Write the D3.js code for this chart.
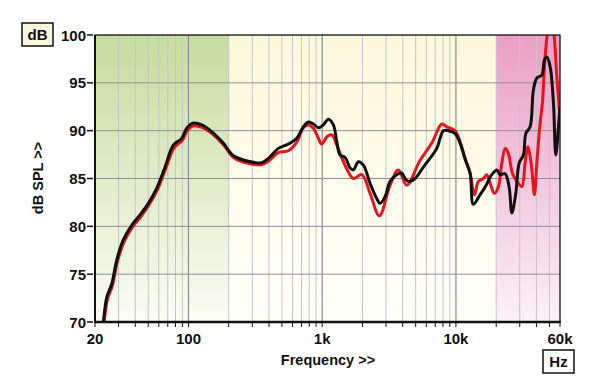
<!DOCTYPE html>
<html>
<head>
<meta charset="utf-8">
<script src="https://cdn.jsdelivr.net/npm/d3@7/dist/d3.min.js"></script>
<style>
  html, body { margin: 0; padding: 0; background: #fff; }
  svg { display: block; }
  text { font-family: "Liberation Sans", Arial, sans-serif; font-weight: bold; fill: #111; }
</style>
</head>
<body>
<svg id="chart" width="600" height="389"></svg>
<script>
// ---------- data ----------
const xTickValues = [20, 100, 1000, 10000, 60000];
const xTickLabels = ["20", "100", "1k", "10k", "60k"];
const yTickValues = [70, 75, 80, 85, 90, 95, 100];
const yTickLabels = ["70", "75", "80", "85", "90", "95", "100"];

const bands = ["low", "mid", "high"];
const bandStart = [20, 200, 20000];
const bandEnd = [200, 20000, 60000];

const blackFreq = [22.5, 23.1, 24.5, 26.7, 29.1, 32.6, 37.6, 43.4, 50.1, 57.9, 66.8, 77.0, 89.0, 97.0, 108.7, 125.7, 149, 182, 216,
  280, 353, 396, 470, 558, 645, 723, 788, 859, 936, 1020, 1112, 1212, 1285, 1360, 1483, 1616, 1710, 1864, 2031,
  2280, 2558, 2708, 2952, 3218, 3610, 3936, 4164, 4408, 4947, 5708, 7190, 7610, 8058, 8782, 9854, 10740, 11710,
  12760, 13500, 15160, 16520, 18540, 20210, 21390, 23330, 24990, 26200, 28040, 29680, 31970, 33310, 35860, 37960,
  40240, 43880, 45880, 47820, 50620, 53590, 55820, 58500, 60000];
const blackDb = [68.5, 70.0, 72.6, 74.0, 76.5, 78.6, 80.1, 81.2, 82.4, 84.0, 86.2, 88.5, 89.2, 90.25, 90.8, 90.6, 89.9, 88.7, 87.4,
  86.8, 86.65, 87.1, 88.15, 88.6, 89.2, 90.4, 90.9, 90.7, 90.3, 90.6, 91.2, 90.6, 88.85, 87.45, 87.2, 86.1, 85.9, 86.75, 86.4,
  84.5, 82.9, 82.4, 83.1, 84.7, 85.4, 85.55, 85.0, 84.7, 85.0, 86.2, 88.15, 89.2, 90.0, 90.0, 89.7, 88.7, 87.0,
  85.55, 82.3, 83.3, 84.1, 85.4, 85.9, 85.4, 85.5, 84.1, 81.4, 83.45, 86.6, 87.45, 89.7, 90.4, 94.25,
  95.5, 95.8, 97.4, 97.7, 96.7, 92.9, 87.45, 90.5, 92.5];

const redFreq = [22.8, 23.4, 24.8, 27.0, 29.4, 33, 38, 44, 50.5, 58.5, 67.5, 78, 90, 98, 109, 126, 150, 183, 217,
  280, 353, 396, 470, 558, 645, 723, 788, 859, 936, 990, 1090, 1180, 1285, 1360, 1526, 1710, 1976,
  2280, 2676, 3218, 3710, 4288, 5393, 6598, 7836, 8542, 9854, 11058, 11710, 12760, 13740, 14720, 16050, 17010,
  18010, 19390, 20780, 22030, 23330, 24680, 26450, 28530, 31090, 32900, 34480, 36500, 38620, 40240, 42600,
  44320, 46430, 48640, 51480, 54200, 56600, 59400, 60000];
const redDb = [68.5, 70.0, 72.4, 73.8, 76.3, 78.4, 79.9, 81.0, 82.2, 83.8, 86.0, 88.2, 89.0, 90.0, 90.5, 90.35, 89.7, 88.5, 87.2,
  86.6, 86.45, 86.8, 87.7, 87.9, 88.8, 90.3, 90.6, 90.25, 89.2, 88.6, 89.4, 89.55, 88.5, 87.6, 86.0, 85.0, 85.4,
  83.45, 81.1, 84.3, 85.9, 84.3, 86.9, 88.7, 90.7, 90.4, 90.0, 88.3, 87.1, 85.55, 83.3, 84.7, 85.0, 85.4,
  84.5, 83.45, 84.15, 86.6, 88.15, 87.6, 85.55, 84.7, 84.15, 86.6, 88.3, 86.6, 83.3, 86.6, 90.8,
  92.9, 97.7, 100.5, 102, 100, 96, 92.2, 91.5];

// ---------- layout ----------
const svg = d3.select("#chart");
const L = 95, R = 560, T = 35, B = 322;
const x = d3.scaleLog().domain([20, 60000]).range([L, R]);
const y = d3.scaleLinear().domain([70, 100]).range([B, T]);

const defs = svg.append("defs");
const gradColors = {
  low:  ["#c6dc9c", "#fbfcf4"],
  mid:  ["#fcf7da", "#fffffa"],
  high: ["#eb9ec5", "#fbf0f5"]
};
bands.forEach(b => {
  const g = defs.append("linearGradient").attr("id", "g-" + b)
    .attr("x1", 0).attr("y1", 0).attr("x2", 0).attr("y2", 1);
  g.append("stop").attr("offset", "0%").attr("stop-color", gradColors[b][0]);
  g.append("stop").attr("offset", "100%").attr("stop-color", gradColors[b][1]);
});
defs.append("clipPath").attr("id", "plotclip")
  .append("rect").attr("x", L).attr("y", T).attr("width", R - L).attr("height", B - T);

// bands
svg.append("g").selectAll("rect").data(bands).join("rect")
  .attr("x", (d, i) => x(bandStart[i]))
  .attr("width", (d, i) => x(bandEnd[i]) - x(bandStart[i]))
  .attr("y", T).attr("height", B - T)
  .attr("fill", d => "url(#g-" + d + ")");

// vertical grid
const gridFreqs = [];
for (let dec = 10; dec <= 10000; dec *= 10) {
  for (let m = 1; m <= 9; m++) {
    const f = dec * m;
    if (f > 20 && f < 60000) gridFreqs.push(f);
  }
}
const isMajor = f => [100, 1000, 10000].includes(f);
svg.append("g").selectAll("line").data(gridFreqs).join("line")
  .attr("x1", d => x(d)).attr("x2", d => x(d))
  .attr("y1", T).attr("y2", B)
  .attr("stroke", d => isMajor(d) ? "#8c8c96" : "#c4c4cc")
  .attr("stroke-width", d => isMajor(d) ? 1.2 : 1);

// horizontal grid
svg.append("g").selectAll("line").data(yTickValues.filter(v => v > 70 && v < 100)).join("line")
  .attr("x1", L).attr("x2", R)
  .attr("y1", d => y(d)).attr("y2", d => y(d))
  .attr("stroke", "#8f8f99").attr("stroke-width", 1);

// curves
const line = d3.line().x(d => x(d[0])).y(d => y(d[1])).curve(d3.curveCatmullRom.alpha(0.5));
const curves = svg.append("g").attr("clip-path", "url(#plotclip)");
curves.append("path").datum(redFreq.map((f, i) => [f, redDb[i]]))
  .attr("d", line).attr("fill", "none").attr("stroke", "#e8141c")
  .attr("stroke-width", 3).attr("stroke-linejoin", "round");
curves.append("path").datum(blackFreq.map((f, i) => [f, blackDb[i]]))
  .attr("d", line).attr("fill", "none").attr("stroke", "#111")
  .attr("stroke-width", 3).attr("stroke-linejoin", "round");

// frame
svg.append("rect").attr("x", L).attr("y", T).attr("width", R - L).attr("height", B - T)
  .attr("fill", "none").attr("stroke", "#111").attr("stroke-width", 1.3);
svg.append("line").attr("x1", L).attr("x2", L).attr("y1", T).attr("y2", B + 1)
  .attr("stroke", "#111").attr("stroke-width", 2);
svg.append("line").attr("x1", L - 1).attr("x2", R + 0.6).attr("y1", B).attr("y2", B)
  .attr("stroke", "#111").attr("stroke-width", 2.6);

// x axis ticks and labels
svg.append("g").selectAll("line").data([20].concat(gridFreqs, [60000])).join("line")
  .attr("x1", d => x(d)).attr("x2", d => x(d))
  .attr("y1", B + 1).attr("y2", B + 5)
  .attr("stroke", "#111").attr("stroke-width", 1);
svg.append("g").selectAll("text").data(xTickValues).join("text")
  .attr("x", d => x(d)).attr("y", 344)
  .attr("text-anchor", "middle").attr("font-size", 15)
  .text((d, i) => xTickLabels[i]);

// y axis ticks and labels
svg.append("g").selectAll("line").data(yTickValues).join("line")
  .attr("x1", 87).attr("x2", 93)
  .attr("y1", d => y(d)).attr("y2", d => y(d))
  .attr("stroke", "#111").attr("stroke-width", 1.5);
svg.append("g").selectAll("text").data(yTickValues).join("text")
  .attr("x", 86).attr("y", d => y(d) + 5.5)
  .attr("text-anchor", "end").attr("font-size", 15)
  .text((d, i) => yTickLabels[i]);

// axis titles
svg.append("text").attr("x", 328).attr("y", 365)
  .attr("text-anchor", "middle").attr("font-size", 14.5).text("Frequency >>");
svg.append("text").attr("transform", "translate(42.5,178) rotate(-90)")
  .attr("text-anchor", "middle").attr("font-size", 14.5).text("dB SPL >>");

// unit boxes
svg.append("rect").attr("x", 22).attr("y", 23).attr("width", 31).attr("height", 23)
  .attr("fill", "#f7f5dc").attr("stroke", "#111").attr("stroke-width", 1.5);
svg.append("text").attr("x", 37.5).attr("y", 40).attr("text-anchor", "middle")
  .attr("font-size", 15).text("dB");
svg.append("rect").attr("x", 543).attr("y", 350).attr("width", 31).attr("height", 23)
  .attr("fill", "#ffffff").attr("stroke", "#111").attr("stroke-width", 1.5);
svg.append("text").attr("x", 558.5).attr("y", 367).attr("text-anchor", "middle")
  .attr("font-size", 15).text("Hz");
</script>
</body>
</html>
